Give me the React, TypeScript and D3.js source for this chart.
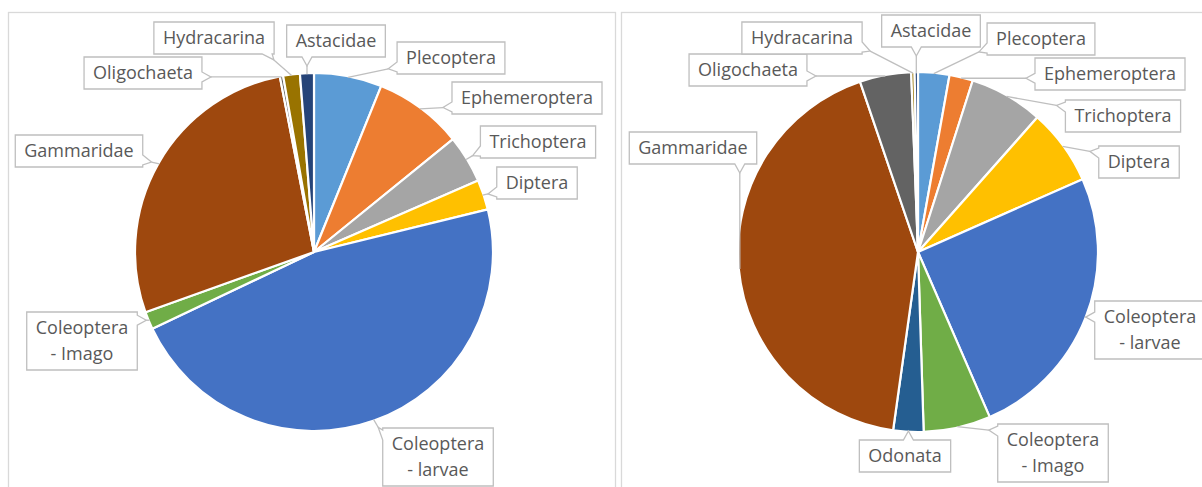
import React, { useRef, useEffect } from 'react';
import * as d3 from 'd3';

// taxa in the order Excel draws them (clockwise from 12 o'clock)
const taxa = [
  'Plecoptera', 'Ephemeroptera', 'Trichoptera', 'Diptera',
  'Coleoptera - larvae', 'Coleoptera - Imago', 'Odonata', 'Gammaridae',
  'Oligochaeta', 'Hydracarina', 'Astacidae',
];
const taxaColors = [
  '#5B9BD5', '#ED7D31', '#A5A5A5', '#FFC000', '#4472C4', '#70AD47',
  '#255E91', '#9E480E', '#636363', '#997300', '#264478',
];
// share of individuals (%) at each site
const siteA = [6.1, 8.0, 4.3, 2.7, 46.6, 1.6, 0, 27.3, 0.3, 1.5, 1.25];
const siteB = [2.8, 2.1, 6.6, 6.8, 25.0, 6.0, 2.7, 42.4, 4.6, 0.3, 0.3];

// callout box centres (layout only)
const calloutsA: ([number, number] | null)[] = [
  [451, 58], [527, 98], [538, 142], [537, 183], [438, 457], [82, 341],
  null, [79, 151], [143, 73], [214, 38], [336, 41],
];
const calloutsB: ([number, number] | null)[] = [
  [1041, 39], [1110, 74], [1123, 116], [1139, 162], [1150, 330], [1053, 453],
  [905, 456], [693, 148], [748, 70], [802, 38], [931, 31],
];

const W = 1202;
const H = 487;
const FONT = 18;
const LINE_H = 26;
const PAD_X = 9;
const PAD_Y = 3;

const App = () => {
  const svgRef = useRef<SVGSVGElement | null>(null);

  useEffect(() => {
    if (!svgRef.current) return;
    const svg = d3.select(svgRef.current);
    svg.selectAll('*').remove();

    // panel frames
    svg.append('rect')
      .attr('x', 8.5).attr('y', 12.5).attr('width', 607).attr('height', 500)
      .attr('fill', '#fff').attr('stroke', '#d9d9d9').attr('stroke-width', 1.3);
    svg.append('rect')
      .attr('x', 621.5).attr('y', 12.5).attr('width', 620).attr('height', 500)
      .attr('fill', '#fff').attr('stroke', '#d9d9d9').attr('stroke-width', 1.3);

    const drawPie = (values: number[], cx: number, cy: number, r: number, callouts: ([number, number] | null)[]) => {
      const data = values.map((v, i) => ({ name: taxa[i], value: v, color: taxaColors[i], pos: callouts[i] }));
      const pie = d3.pie<any>().sort(null).value(d => d.value);
      const arcs = pie(data);
      const arc = d3.arc<any>().innerRadius(0).outerRadius(r);

      const g = svg.append('g').attr('transform', `translate(${cx},${cy})`);
      g.selectAll('path.slice')
        .data(arcs.filter(a => a.data.value > 0))
        .enter()
        .append('path')
        .attr('class', 'slice')
        .attr('d', arc)
        .attr('fill', d => d.data.color)
        .attr('stroke', '#fff')
        .attr('stroke-width', 2.2)
        .attr('stroke-linejoin', 'round');

      // callouts
      arcs.forEach(a => {
        if (a.data.value <= 0 || !a.data.pos) return;
        const mid = (a.startAngle + a.endAngle) / 2;
        const ax = cx + (r - 1) * Math.sin(mid);
        const ay = cy - (r - 1) * Math.cos(mid);
        const lines = a.data.name.includes(' - ')
          ? [a.data.name.split(' - ')[0], '- ' + a.data.name.split(' - ')[1]]
          : [a.data.name];

        const lg = svg.append('g');
        const txt = lg.append('text')
          .attr('font-family', '"Open Sans", sans-serif')
          .attr('font-size', FONT)
          .attr('fill', '#595959')
          .attr('text-anchor', 'middle');
        lines.forEach(l => txt.append('tspan').text(l));
        let tw = 0;
        txt.selectAll('tspan').each(function () {
          tw = Math.max(tw, (this as SVGTSpanElement).getComputedTextLength());
        });

        const [bx, by] = a.data.pos;
        const bw = tw + PAD_X * 2;
        const bh = lines.length * LINE_H + PAD_Y * 2;
        const x0 = bx - bw / 2, x1 = bx + bw / 2, y0 = by - bh / 2, y1 = by + bh / 2;

        txt.selectAll('tspan')
          .attr('x', bx)
          .attr('y', (_, i) => y0 + PAD_Y + LINE_H * i + LINE_H / 2 + FONT * 0.35);

        // side of the box facing the anchor
        const dxOut = Math.max(x0 - ax, ax - x1, 0);
        const dyOut = Math.max(y0 - ay, ay - y1, 0);
        let side: 'top' | 'right' | 'bottom' | 'left';
        if (dxOut > dyOut) side = ax < x0 ? 'left' : 'right';
        else side = ay < y0 ? 'top' : 'bottom';

        const hw = 5;
        let bxp: number, byp: number;
        if (side === 'left' || side === 'right') {
          byp = Math.max(y0 + hw + 2, Math.min(y1 - hw - 2, ay));
          bxp = side === 'left' ? x0 : x1;
        } else {
          bxp = Math.max(x0 + hw + 2, Math.min(x1 - hw - 2, ax));
          byp = side === 'top' ? y0 : y1;
        }
        const dist = Math.hypot(ax - bxp, ay - byp);
        const tl = Math.min(9, dist);
        const tx = bxp + ((ax - bxp) / (dist || 1)) * tl;
        const ty = byp + ((ay - byp) / (dist || 1)) * tl;

        const pts: [number, number][] = [[x0, y0]];
        if (side === 'top') pts.push([bxp - hw, y0], [tx, ty], [bxp + hw, y0]);
        pts.push([x1, y0]);
        if (side === 'right') pts.push([x1, byp - hw], [tx, ty], [x1, byp + hw]);
        pts.push([x1, y1]);
        if (side === 'bottom') pts.push([bxp + hw, y1], [tx, ty], [bxp - hw, y1]);
        pts.push([x0, y1]);
        if (side === 'left') pts.push([x0, byp + hw], [tx, ty], [x0, byp - hw]);

        lg.insert('line', 'text')
          .attr('x1', tx).attr('y1', ty).attr('x2', ax).attr('y2', ay)
          .attr('stroke', '#bfbfbf').attr('stroke-width', 1.3);
        lg.insert('path', 'text')
          .attr('d', d3.line()(pts) + 'Z')
          .attr('fill', '#fff')
          .attr('stroke', '#bfbfbf')
          .attr('stroke-width', 1.3);
      });
    };

    drawPie(siteA, 314, 252, 179, calloutsA);
    drawPie(siteB, 918, 252, 180, calloutsB);
  }, []);

  return (
    <svg
      ref={svgRef}
      width={W}
      height={H}
      style={{ position: 'absolute', left: 0, top: 0, background: '#fff' }}
    />
  );
};

export default App;
